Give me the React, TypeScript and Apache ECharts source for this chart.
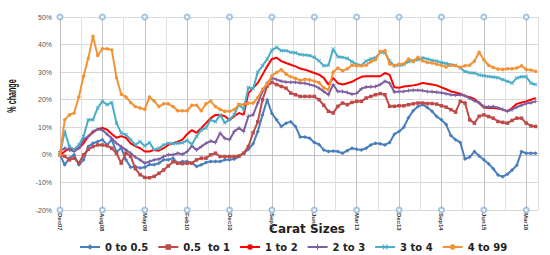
import React, { useEffect, useRef } from "react";
import * as echarts from "echarts";

const tickLabels = ["Dec07", "Aug08", "May09", "Feb10", "Dec10", "Sep11", "Jun12", "Mar13", "Dec13", "Sep14", "Jun15", "Mar16"];

const seriesNames = ["0 to 0.5", "0.5  to 1", "1 to 2", "2 to 3", "3 to 4", "4 to 99"];

const s0to05 = [0, -3.6, -1.2, 0, -3.6, -1.8, 3, 4.2, 4.8, 5.5, 3.6, 5.5, 1, 2.5, -1.8, -4.5, -4.2, -4.8, -4.5, -3.5, -3.6, -3, -1.8, -1.8, -1.2, -3, -2.4, -2.4, -3, -4.2, -3.6, -2.8, -2.4, -2.4, -2.4, -1.8, -1.8, -1.5, -0.6, 0.5, 2, 4, 8.5, 14.5, 20, 15, 12.7, 10.3, 11.5, 12, 10.3, 6.5, 6.5, 6, 4.5, 3.8, 1.8, 1.2, 1.4, 1.2, 0.6, 1.5, 2.4, 2, 1.8, 2.4, 3.6, 4.2, 4, 3.6, 4.5, 7.5, 8.5, 10, 13.5, 16, 17.5, 18.2, 17.2, 15.8, 13.9, 12.7, 11, 7, 5.5, 4.5, -1.5, -0.8, 1.2, -0.4, -1.8, -3.2, -5, -7.3, -7.9, -7, -5.5, -3.8, 1.2, 0.6, 0.6, 0.6];

const s05to1 = [0, -0.5, -1.8, -1.2, -3, 0, 2, 3, 3.6, 3.6, 3.3, 2.4, 0.6, -3, 0.6, -0.5, -5, -7.2, -8.2, -8.3, -7.8, -6.7, -5.5, -4, -2.5, -3, -3.2, -3, -3, -1.8, -1.2, -1.2, 0, 0.6, -0.6, -0.6, -0.6, -0.6, -0.4, 0.6, 3, 8, 12, 20, 25, 26.3, 25.5, 24.8, 24.2, 22.4, 21.8, 21.2, 21.2, 21.2, 21.2, 20, 18, 15.8, 15.2, 17.6, 18.8, 18.2, 19, 19.4, 19.4, 20.6, 21.2, 21.8, 22.2, 21.8, 17.6, 17.6, 17.8, 17.8, 18.2, 18.5, 18.8, 18.8, 18.6, 18.6, 18.4, 17.8, 17.3, 16.4, 15.5, 19.4, 18.8, 12.7, 11.5, 14, 14.5, 13.9, 13.3, 12.1, 11.8, 11.5, 12.5, 13.3, 13.3, 11.5, 10.5, 10.3];

const s1to2 = [0, 1.2, 2.4, 1.8, 2.4, 4.2, 6.7, 8.1, 9.3, 9.8, 9.1, 7.6, 6.2, 6.8, 6.2, 4.2, 3.2, 2.4, 1.2, 1.2, 1.8, 1.5, 2.4, 3.6, 4.2, 4.8, 5.5, 7.5, 9, 8, 9.7, 11.5, 13.3, 14.5, 14.5, 14, 12.7, 14, 15.2, 14.5, 22.4, 24.2, 26.1, 29.1, 32.1, 34.8, 35.2, 34, 33.3, 32.7, 32.1, 31.3, 30.9, 30.3, 29.7, 29.1, 27.9, 25.5, 27.9, 26, 25.5, 26, 26.5, 27.5, 28.3, 28.5, 28.5, 28.5, 28.5, 29.7, 29, 24.5, 24.3, 24.8, 25, 25.2, 25.5, 26.1, 25.8, 25.5, 25.2, 24.5, 23.8, 23, 22.6, 22.2, 21.4, 20.9, 20.3, 18.8, 17.2, 17, 17, 16.8, 16.4, 15.8, 17, 18.5, 19, 19.4, 20, 20.6];

const s2to3 = [1.2, 2.4, 1.8, 1.2, 2.4, 5.5, 6.7, 8.5, 9.3, 9, 7.5, 6, 4.2, 3, 1.8, 0.6, -0.8, -1.8, -3, -2.4, -1.8, -1.6, -0.6, 0, 0, 0.6, 0.2, 1.2, 3.2, 1.8, 3, 4.2, 5, 4.5, 7.9, 6, 5.5, 8.5, 9.7, 8.5, 14, 14.5, 18.8, 23, 26.1, 27.9, 27.3, 26.7, 26.4, 26.3, 26.3, 26.1, 26, 25.5, 25.1, 24.2, 23, 21.8, 25.5, 23, 23, 22.6, 22, 22.3, 24, 24.6, 24.7, 24.8, 25.5, 26.7, 26, 22.8, 23, 23, 23.3, 23.4, 23.4, 23.3, 23, 22.9, 22.7, 22.5, 22.2, 21.8, 21.7, 21.8, 21.4, 20.5, 19.6, 18.9, 17.5, 17.4, 17.5, 17.1, 16.5, 15.8, 16.4, 17.3, 18, 18.6, 18.9, 19.4];

const s3to4 = [0.5, 8.5, 3, 2, 3.6, 6.7, 12.7, 12.7, 17, 19.4, 18.2, 19, 11.5, 7.9, 7.3, 5.5, 3.6, 4.8, 3.2, 4.5, 1.8, 2.4, 3.6, 4.2, 4, 4.2, 4.4, 5.2, 3.8, 6.7, 9, 9.7, 12.7, 12, 14.5, 11.6, 12.8, 14.6, 18.3, 16.5, 24.4, 24, 30, 32.3, 34.8, 38, 39, 37.8, 37.8, 37.2, 37, 36.4, 36.2, 36, 35.4, 34.1, 32.3, 32.5, 38.4, 35.6, 35.4, 35, 33.8, 32.8, 32.5, 34, 34.8, 35.2, 37.2, 37, 34, 32.3, 32.5, 32.7, 33.8, 34.2, 34.5, 35.2, 34.8, 34.3, 34, 33.5, 33.1, 32.7, 32.5, 31.5, 30.2, 29.8, 29.7, 29, 28.7, 28.4, 28.2, 28, 27.3, 26.7, 26, 27.9, 28.3, 28.3, 26, 25.5];

const s4to99 = [0, 12.7, 14.5, 15.2, 21, 28.5, 35, 43, 36, 38.5, 38.5, 38, 28, 22, 21, 19, 17.5, 17, 16.5, 21, 19.5, 17.5, 18.5, 18.5, 17.5, 16, 16, 16, 18, 18, 16, 18.5, 19.5, 17.5, 16.5, 15.8, 15.8, 16.4, 18.3, 18.3, 18.7, 18.8, 20.7, 23.8, 25.6, 28.7, 29.9, 30.9, 29.3, 28.3, 27.8, 27, 27.4, 27.2, 26.8, 26.2, 24.3, 23.6, 30, 31.5, 30.5, 31.2, 32.5, 32.3, 32.3, 32.5, 33.8, 34.5, 37.5, 37.8, 33, 32.3, 32.9, 33, 34.8, 33.8, 35.4, 34.1, 33.5, 33.3, 32.9, 32.5, 31.9, 32.5, 32.3, 31.8, 32.3, 32.5, 34, 37.2, 34.5, 32.5, 31.7, 31.1, 31, 31.2, 31.2, 31.5, 32.3, 31, 30.8, 30.3];

const seriesValues = [s0to05, s05to1, s1to2, s2to3, s3to4, s4to99];
const seriesColors = ["#4a7ebb", "#be4b48", "#ff0000", "#7d5fa0", "#4bacc6", "#f39339"];
const plusPath = "path://M2,0H3V2H5V3H3V5H2V3H0V2H2Z";
const xPath = "path://M0.7,0L2.5,1.8L4.3,0L5,0.7L3.2,2.5L5,4.3L4.3,5L2.5,3.2L0.7,5L0,4.3L1.8,2.5L0,0.7Z";
const seriesSymbols = ["diamond", "rect", "none", plusPath, xPath, "circle"];
const seriesSymbolSizes = [4, 3.5, 0, 4, 4, 3.5];

const LABEL_STEP = 9;

export default function App() {
  const ref = useRef<HTMLDivElement>(null);
  useEffect(() => {
    document.body.style.margin = "0";
    if (!ref.current) return;
    const chart = echarts.init(ref.current, null, { renderer: "svg" });
    const lastIndex = Math.max(...seriesValues.map((s) => s.length)) - 1;
    const lineSeries = seriesNames.map((name, k) => ({
      name,
      type: "line",
      data: seriesValues[k].map((v, i) => [i, v]),
      symbol: seriesSymbols[k],
      symbolSize: seriesSymbolSizes[k],
      showSymbol: seriesSymbols[k] !== "none",
      lineStyle: { color: seriesColors[k], width: 2 },
      itemStyle: { color: seriesColors[k] },
      z: 3 + k,
    }));
    const tickMarks = {
      name: "ticks",
      type: "scatter",
      data: tickLabels.flatMap((_, k) => [
        [k * LABEL_STEP, 50],
        [k * LABEL_STEP, -20],
      ]),
      symbol: "emptyCircle",
      symbolSize: 5,
      itemStyle: { color: "#8fb4dc", borderWidth: 1 },
      clip: false,
      silent: true,
      z: 10,
    };
    chart.setOption({
      animation: false,
      textStyle: { fontFamily: "Liberation Sans" },
      grid: { left: 60, right: 12, top: 17, bottom: 45, containLabel: false },
      legend: {
        data: seriesNames,
        left: 74,
        top: 237,
        width: 476,
        itemWidth: 20,
        itemHeight: 7,
        itemGap: 9,
        textStyle: { fontFamily: "DejaVu Sans", fontWeight: "bold", fontSize: 10, color: "#222" },
      },
      xAxis: {
        type: "value",
        min: 0,
        max: lastIndex + 0.5,
        interval: LABEL_STEP / 2,
        axisLine: { show: true, lineStyle: { color: "#bfbfbf" } },
        axisTick: { show: false },
        axisLabel: {
          rotate: -90,
          fontSize: 6,
          fontWeight: "bold",
          color: "#333",
          margin: 3,
          showMaxLabel: false,
          formatter: (v: number) => (v % LABEL_STEP === 0 ? tickLabels[v / LABEL_STEP] ?? "" : ""),
        },
        splitLine: { show: true, lineStyle: { color: ["#c4c4c4", "#e0e0e0"], width: 1 } },
      },
      yAxis: {
        type: "value",
        min: -20,
        max: 50,
        interval: 10,
        axisLine: { show: true, lineStyle: { color: "#bfbfbf" } },
        axisTick: { show: false },
        axisLabel: { formatter: "{value}%", fontSize: 7, color: "#555", margin: 8 },
        splitLine: { show: true, lineStyle: { color: "#d9d9d9" } },
      },
      graphic: [
        {
          type: "text",
          x: 12,
          y: 96,
          rotation: Math.PI / 2,
          scaleX: 0.55,
          style: {
            text: "% change",
            fontFamily: "Liberation Sans",
            fontWeight: "bold",
            fontSize: 13,
            fill: "#111",
            textAlign: "center",
            textVerticalAlign: "middle",
          },
        },
        {
          type: "text",
          x: 307,
          y: 229,
          style: {
            text: "Carat Sizes",
            fontFamily: "DejaVu Sans",
            fontWeight: "bold",
            fontSize: 12,
            fill: "#222",
            textAlign: "center",
            textVerticalAlign: "middle",
          },
        },
      ],
      series: [...lineSeries, tickMarks],
    });
    return () => chart.dispose();
  }, []);
  return <div ref={ref} style={{ width: 550, height: 255 }} />;
}
